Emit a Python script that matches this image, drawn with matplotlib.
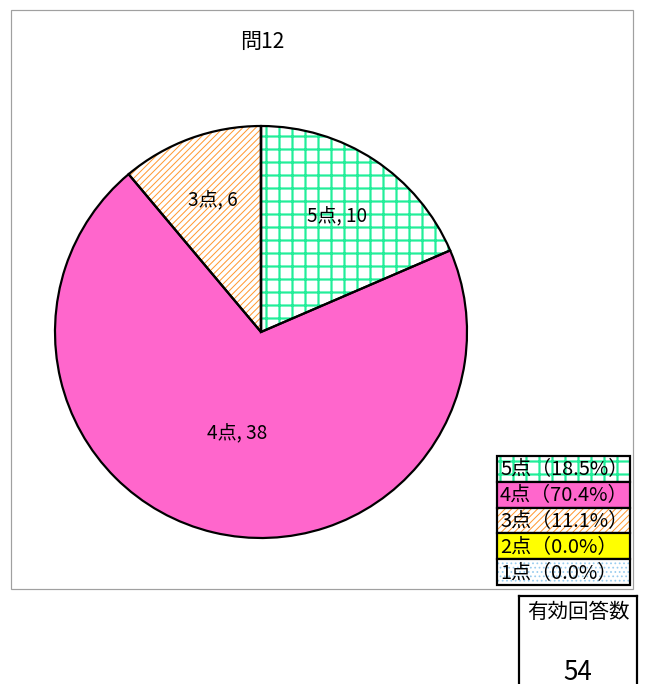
import matplotlib
matplotlib.use("Agg")
import matplotlib.pyplot as plt
from matplotlib.patches import Rectangle
import numpy as np

plt.rcParams['font.family'] = ['Noto Sans CJK JP', 'DejaVu Sans']

# ---- data ----
title = "問12"
categories = ["5点", "4点", "3点", "2点", "1点"]
counts = [10, 38, 6, 0, 0]
total_label = "有効回答数"
total_value = 54

# ---- styles ----
face_colors = ["white", "#FF66CC", "white", "#FFFF00", "white"]
hatch_colors = ["#22EE99", "#FF66CC", "#FF9933", "#FFFF00", "#99CCEE"]
hatches = ["+", None, "////", None, "..."]
hatch_lw = [2.2, 1.0, 1.0, 1.0, 1.0]
label_dist = [0.67, 0.51, 0.68, 0.7, 0.7]

DPI = 78
W, H = 645, 684
def pt(px):
    return px * 72.0 / DPI

plt.rcParams['hatch.linewidth'] = pt(1.5)

def set_hlw(p, px):
    if hasattr(p, "set_hatch_linewidth"):
        p.set_hatch_linewidth(pt(px))
    else:
        p._hatch_linewidth = pt(px)

fig = plt.figure(figsize=(W / DPI, H / DPI), dpi=DPI)

# overlay axes in pixel coordinates
ov = fig.add_axes([0, 0, 1, 1])
ov.set_xlim(0, W)
ov.set_ylim(H, 0)
ov.axis('off')

# chart frame
ov.add_patch(Rectangle((11, 10), 622, 579, fill=False, edgecolor="#A0A0A0", lw=pt(1.2)))

# pie axes
cx, cy, r = 261, 332, 206
ax = fig.add_axes([(cx - r) / W, (H - cy - r) / H, 2 * r / W, 2 * r / H])
wedges, _ = ax.pie(counts, startangle=90, counterclock=False,
                   wedgeprops=dict(linewidth=0))
for w, fc, hc, ht, hl in zip(wedges, face_colors, hatch_colors, hatches, hatch_lw):
    w.set_facecolor(fc)
    w.set_edgecolor(hc)
    w.set_linewidth(0)
    if ht:
        w.set_hatch(ht)
        set_hlw(w, hl)
outline, _ = ax.pie(counts, startangle=90, counterclock=False,
                    wedgeprops=dict(fill=False, edgecolor="black", linewidth=pt(2.2)))
ax.set_xlim(-1, 1)
ax.set_ylim(-1, 1)
ax.set_aspect('equal')
ax.axis('off')

# data labels
tot = sum(counts)
start = 90.0
for cat, v, d in zip(categories, counts, label_dist):
    span = 360.0 * v / tot
    if v > 0:
        mid = np.deg2rad(start - span / 2)
        ax.text(d * np.cos(mid), d * np.sin(mid), f"{cat}, {v}",
                ha="center", va="center", fontsize=pt(19), color="black")
    start -= span

# title
ov.text(262, 42, title, ha="center", va="center", fontsize=pt(21), color="black")

# legend (manual, Excel style)
lx, ly, lw_, lh = 497, 456, 133, 129
rh = lh / len(categories)
for i, (cat, v) in enumerate(zip(categories, counts)):
    y0 = ly + i * rh
    p = Rectangle((lx, y0), lw_, rh, facecolor=face_colors[i],
                  edgecolor=hatch_colors[i], lw=0)
    if hatches[i]:
        p.set_hatch(hatches[i])
        set_hlw(p, hatch_lw[i])
    ov.add_patch(p)
    ov.add_patch(Rectangle((lx, y0), lw_, rh, fill=False, edgecolor="black", lw=pt(2.2)))
    pct = v / tot * 100
    ov.text(lx + 3, y0 + rh / 2 + 1, f"{cat}（{pct:.1f}%）", ha="left", va="center",
            fontsize=pt(20), color="black")

# total box
bx0, bx1, by0 = 519, 637, 596
ov.plot([bx0, bx1], [by0, by0], color="black", lw=pt(2.2), solid_capstyle="projecting")
ov.plot([bx0, bx0], [by0, H + 5], color="black", lw=pt(2.2))
ov.plot([bx1, bx1], [by0, H + 5], color="black", lw=pt(2.2))
ov.text((bx0 + bx1) / 2, 612, total_label, ha="center", va="center", fontsize=pt(20.5), color="black")
ov.text((bx0 + bx1) / 2, 672, str(total_value), ha="center", va="center", fontsize=pt(26), color="black")

fig.savefig("out.png", dpi=DPI)
